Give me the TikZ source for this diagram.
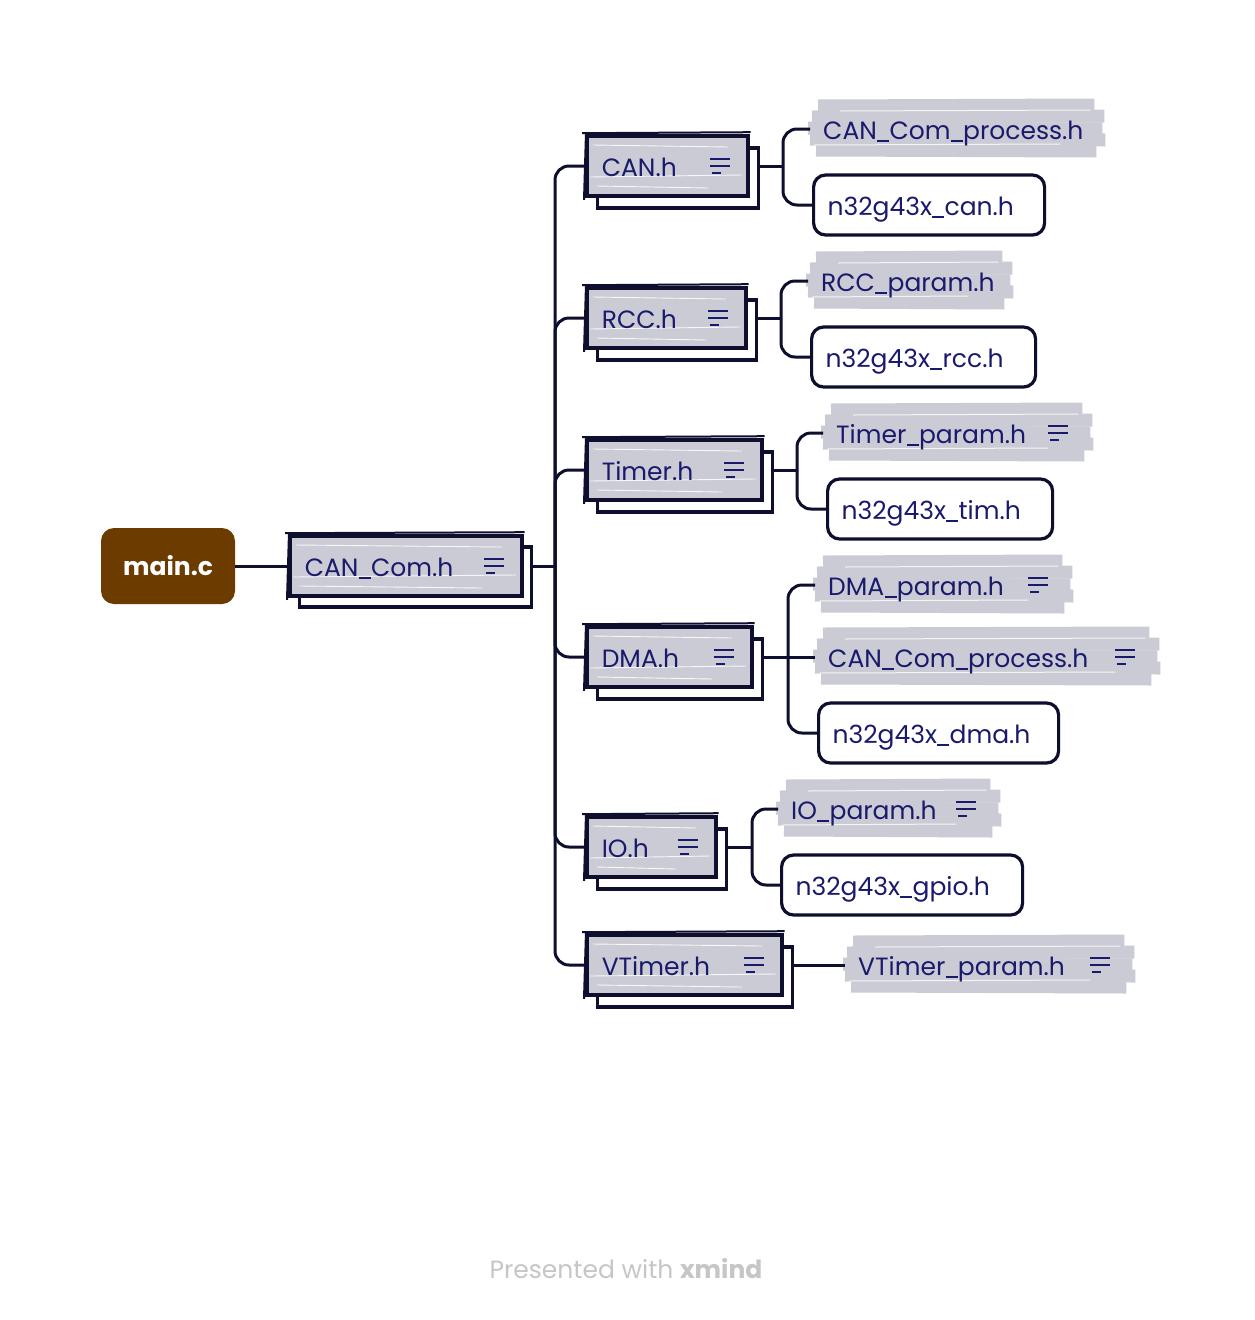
\documentclass[tikz,border=0pt]{standalone}
\usepackage{fontspec}
\setmainfont{Poppins}
\usetikzlibrary{backgrounds}
\definecolor{ink}{HTML}{0E0E2E}
\definecolor{txt}{HTML}{1A1A6C}
\definecolor{boxg}{HTML}{CBCBD5}
\definecolor{mainbrown}{HTML}{6C3B00}
\definecolor{footc}{HTML}{C6C6C6}
\newcommand\lbl{\fontsize{25}{30}\selectfont}
\newcommand\us{\kern0.3pt\rule[-2.5pt]{12pt}{1.5pt}\kern0.3pt}
\tikzset{
 conn/.style={draw=ink, line width=3pt, rounded corners=14pt},
 streaks/.style={path picture={
   \draw[white, line width=0.9pt, opacity=.85]
     ([shift={(6pt,-9pt)}]path picture bounding box.north west) -- ([shift={(-20pt,-11pt)}]path picture bounding box.north east)
     ([shift={(3pt,-41pt)}]path picture bounding box.north west) -- ([shift={(-6pt,-39pt)}]path picture bounding box.north east)
     ([shift={(10pt,10pt)}]path picture bounding box.south west) -- ([shift={(-40pt,8pt)}]path picture bounding box.south east);}},
 txtbox/.style={text=txt, align=left, font=\lbl, text height=22pt, text depth=2pt},
 l2box/.style={draw=ink, line width=3.6pt, fill=boxg, minimum height=60pt, anchor=west, inner xsep=15pt, txtbox, streaks},
 l2shadow/.style={draw=ink, line width=3.4pt, fill=white, minimum height=60pt, anchor=west},
 leafbox/.style={draw=ink, line width=3.2pt, fill=white, rounded corners=12pt, minimum height=60pt, anchor=west, inner xsep=14pt, txtbox},
 brushnode/.style={minimum height=50pt, anchor=west, inner xsep=13pt, txtbox},
 menuline/.style={draw=txt, line width=1.8pt},
 brushstroke/.style={draw=boxg, line width=13pt},
 brushgap/.style={draw=white, line width=1pt, opacity=.8},
}
\newcommand\menuicon[1]{%
 \draw[menuline] ([shift={(-40pt,7pt)}]#1.east) -- ++(20pt,0pt);
 \draw[menuline] ([shift={(-40pt,0pt)}]#1.east) -- ++(20pt,0pt);
 \draw[menuline] ([shift={(-38pt,-7pt)}]#1.east) -- ++(9pt,0pt);}
\newcommand\sk[1]{%
 \draw[ink, line width=2pt] ([shift={(-3pt,1pt)}]#1.north west) -- ([shift={(1pt,2pt)}]#1.north east);
 \draw[ink, line width=2pt] ([shift={(1pt,2pt)}]#1.north west) -- ([shift={(-1pt,-2pt)}]#1.south west);}
\newcommand\brush[1]{%
 \begin{pgfonlayer}{background}
 \draw[brushstroke] ([shift={(8pt,23pt)}]#1.west) -- ([shift={(-6pt,24pt)}]#1.east);
 \draw[brushstroke] ([shift={(2pt,12pt)}]#1.west) -- ([shift={(4pt,13pt)}]#1.east);
 \draw[brushstroke] ([shift={(-2pt,1pt)}]#1.west) -- ([shift={(2pt,0pt)}]#1.east);
 \draw[brushstroke] ([shift={(0pt,-10pt)}]#1.west) -- ([shift={(5pt,-11pt)}]#1.east);
 \draw[brushstroke] ([shift={(6pt,-21pt)}]#1.west) -- ([shift={(-4pt,-22pt)}]#1.east);
 \draw[brushgap] ([shift={(30pt,18pt)}]#1.west) -- ([shift={(-10pt,19pt)}]#1.east);
 \draw[brushgap] ([shift={(4pt,-16pt)}]#1.west) -- ([shift={(-40pt,-15pt)}]#1.east);
 \end{pgfonlayer}}
\begin{document}
\begin{tikzpicture}[x=1pt,y=-1pt]
\begin{pgfonlayer}{background}
\fill[white] (0,0) rectangle (1254,1320);
\end{pgfonlayer}
\useasboundingbox (0,0) rectangle (1254,1320);

% root
\node[fill=mainbrown, rounded corners=13pt, minimum width=134pt, minimum height=76pt, text=white, font=\lbl\bfseries] (main) at (168,566) {main.c};

% level 1
\node[l2shadow, minimum width=232pt] (cancs) at (298,577) {};
\node[l2box, text width=202pt] (canc) at (288,566) {CAN\us Com.h};
\sk{canc}\menuicon{canc}

% level 2 boxes
\node[l2shadow, minimum width=161pt] (canhs) at (596,178) {};
\node[l2box, text width=131pt] (canh) at (585,166) {CAN.h};
\sk{canh}\menuicon{canh}

\node[l2shadow, minimum width=159pt] (rcchs) at (596,330) {};
\node[l2box, text width=129pt] (rcch) at (585,318) {RCC.h};
\sk{rcch}\menuicon{rcch}

\node[l2shadow, minimum width=175pt] (timhs) at (596,482) {};
\node[l2box, text width=145pt] (timh) at (585,470) {Timer.h};
\sk{timh}\menuicon{timh}

\node[l2shadow, minimum width=165pt] (dmahs) at (596,669) {};
\node[l2box, text width=135pt] (dmah) at (585,657) {DMA.h};
\sk{dmah}\menuicon{dmah}

\node[l2shadow, minimum width=129pt] (iohs) at (596,859) {};
\node[l2box, text width=99pt] (ioh) at (585,847) {IO.h};
\sk{ioh}\menuicon{ioh}

\node[l2shadow, minimum width=195pt] (vths) at (596,977) {};
\node[l2box, text width=165pt] (vth) at (585,965) {VTimer.h};
\sk{vth}\menuicon{vth}

% level 3
\node[brushnode, text width=264pt] (cp1) at (810,129) {CAN\us Com\us process.h};
\brush{cp1}
\node[leafbox, text width=203pt] (can) at (812,205) {n32g43x\us can.h};

\node[brushnode, text width=174pt] (rccp) at (808,281) {RCC\us param.h};
\brush{rccp}
\node[leafbox, text width=196pt] (rcc) at (810,357) {n32g43x\us rcc.h};

\node[brushnode, text width=239pt] (timp) at (823,433) {Timer\us param.h};
\brush{timp}\menuicon{timp}
\node[leafbox, text width=197pt] (tim) at (826,509) {n32g43x\us tim.h};

\node[brushnode, text width=227pt] (dmap) at (815,585) {DMA\us param.h};
\brush{dmap}\menuicon{dmap}
\node[brushnode, text width=314pt] (cp2) at (815,657) {CAN\us Com\us process.h};
\brush{cp2}\menuicon{cp2}
\node[leafbox, text width=212pt] (dma) at (817,733) {n32g43x\us dma.h};

\node[brushnode, text width=192pt] (iop) at (778,809) {IO\us param.h};
\brush{iop}\menuicon{iop}
\node[leafbox, text width=213pt] (gpio) at (780,885) {n32g43x\us gpio.h};

\node[brushnode, text width=259pt] (vtp) at (845,965) {VTimer\us param.h};
\brush{vtp}\menuicon{vtp}

% connectors
\draw[conn] (main.east) -- (canc.west);
\coordinate (s1) at (555,566);
\draw[conn] (cancs.east |- canc.center) -- (s1);
\foreach \c in {canh,rcch,timh,dmah,ioh,vth} \draw[conn] (s1) |- (\c.west);

\coordinate (s2) at (783,166);
\draw[conn] (canhs.east |- canh.center) -- (s2);
\draw[conn] (s2) |- (cp1.west);
\draw[conn] (s2) |- (can.west);

\coordinate (s3) at (781,318);
\draw[conn] (rcchs.east |- rcch.center) -- (s3);
\draw[conn] (s3) |- (rccp.west);
\draw[conn] (s3) |- (rcc.west);

\coordinate (s4) at (797,470);
\draw[conn] (timhs.east |- timh.center) -- (s4);
\draw[conn] (s4) |- (timp.west);
\draw[conn] (s4) |- (tim.west);

\coordinate (s5) at (788,657);
\draw[conn] (dmahs.east |- dmah.center) -- (s5);
\draw[conn] (s5) |- (dmap.west);
\draw[conn] (s5) -- (cp2.west);
\draw[conn] (s5) |- (dma.west);

\coordinate (s6) at (752,847);
\draw[conn] (iohs.east |- ioh.center) -- (s6);
\draw[conn] (s6) |- (iop.west);
\draw[conn] (s6) |- (gpio.west);

\draw[conn] (vths.east |- vth.center) -- (vtp.west);

% footer
\node[font=\lbl, text=footc] (footer) at (626,1269) {Presented with \textbf{xmind}};
\end{tikzpicture}
\end{document}
